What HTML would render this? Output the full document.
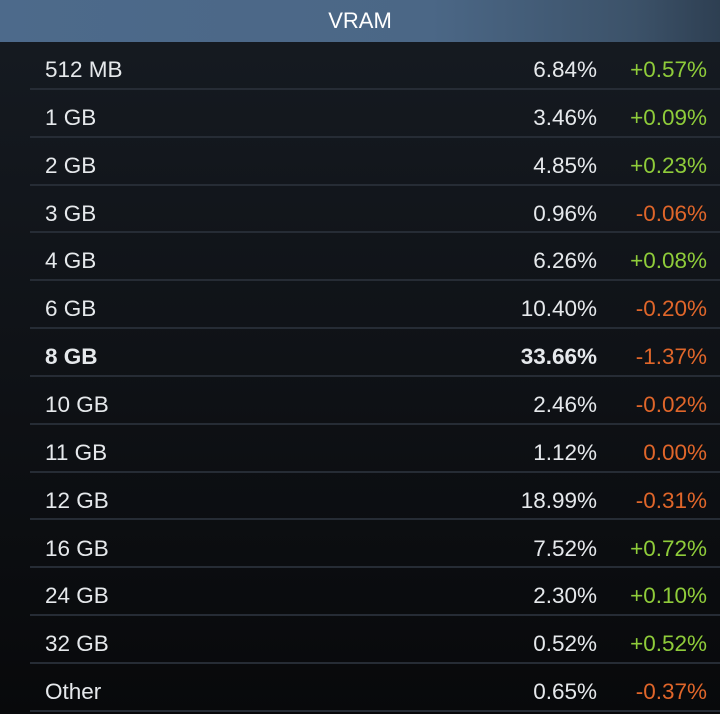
<!DOCTYPE html>
<html><head><style>
html,body{margin:0;padding:0;}
body{width:720px;height:714px;overflow:hidden;background:linear-gradient(#161b22,#08090b);font-family:"Liberation Sans",sans-serif;position:relative;}
.hd{position:absolute;left:0;top:0;width:720px;height:42px;background:linear-gradient(90deg,#4d6a8b 0%,#4b6786 60%,#3c5269 88%,#2e3f52 100%);color:#fff;font-size:22px;text-align:center;line-height:42px;}
.row{position:absolute;left:30px;width:690px;height:47.85px;border-bottom:2px solid #262c35;box-sizing:border-box;color:#e6e9ec;font-size:22.5px;}
.row span{position:absolute;top:15px;}
.n{left:15px;}
.v{right:123px;}
.c{right:13px;}
.g{color:#8fcc3a;}
.r{color:#e0662a;}
.b{font-weight:bold;}
</style></head><body>
<div class="hd">VRAM</div>
<div class="row" style="top:42px"><span class="n">512 MB</span><span class="v">6.84%</span><span class="c g">+0.57%</span></div>
<div class="row" style="top:89.85px"><span class="n">1 GB</span><span class="v">3.46%</span><span class="c g">+0.09%</span></div>
<div class="row" style="top:137.7px"><span class="n">2 GB</span><span class="v">4.85%</span><span class="c g">+0.23%</span></div>
<div class="row" style="top:185.55px"><span class="n">3 GB</span><span class="v">0.96%</span><span class="c r">-0.06%</span></div>
<div class="row" style="top:233.4px"><span class="n">4 GB</span><span class="v">6.26%</span><span class="c g">+0.08%</span></div>
<div class="row" style="top:281.25px"><span class="n">6 GB</span><span class="v">10.40%</span><span class="c r">-0.20%</span></div>
<div class="row b" style="top:329.1px"><span class="n">8 GB</span><span class="v">33.66%</span><span class="c r" style="font-weight:normal">-1.37%</span></div>
<div class="row" style="top:376.95px"><span class="n">10 GB</span><span class="v">2.46%</span><span class="c r">-0.02%</span></div>
<div class="row" style="top:424.8px"><span class="n">11 GB</span><span class="v">1.12%</span><span class="c r">0.00%</span></div>
<div class="row" style="top:472.65px"><span class="n">12 GB</span><span class="v">18.99%</span><span class="c r">-0.31%</span></div>
<div class="row" style="top:520.5px"><span class="n">16 GB</span><span class="v">7.52%</span><span class="c g">+0.72%</span></div>
<div class="row" style="top:568.35px"><span class="n">24 GB</span><span class="v">2.30%</span><span class="c g">+0.10%</span></div>
<div class="row" style="top:616.2px"><span class="n">32 GB</span><span class="v">0.52%</span><span class="c g">+0.52%</span></div>
<div class="row" style="top:664.05px"><span class="n">Other</span><span class="v">0.65%</span><span class="c r">-0.37%</span></div>
</body></html>
